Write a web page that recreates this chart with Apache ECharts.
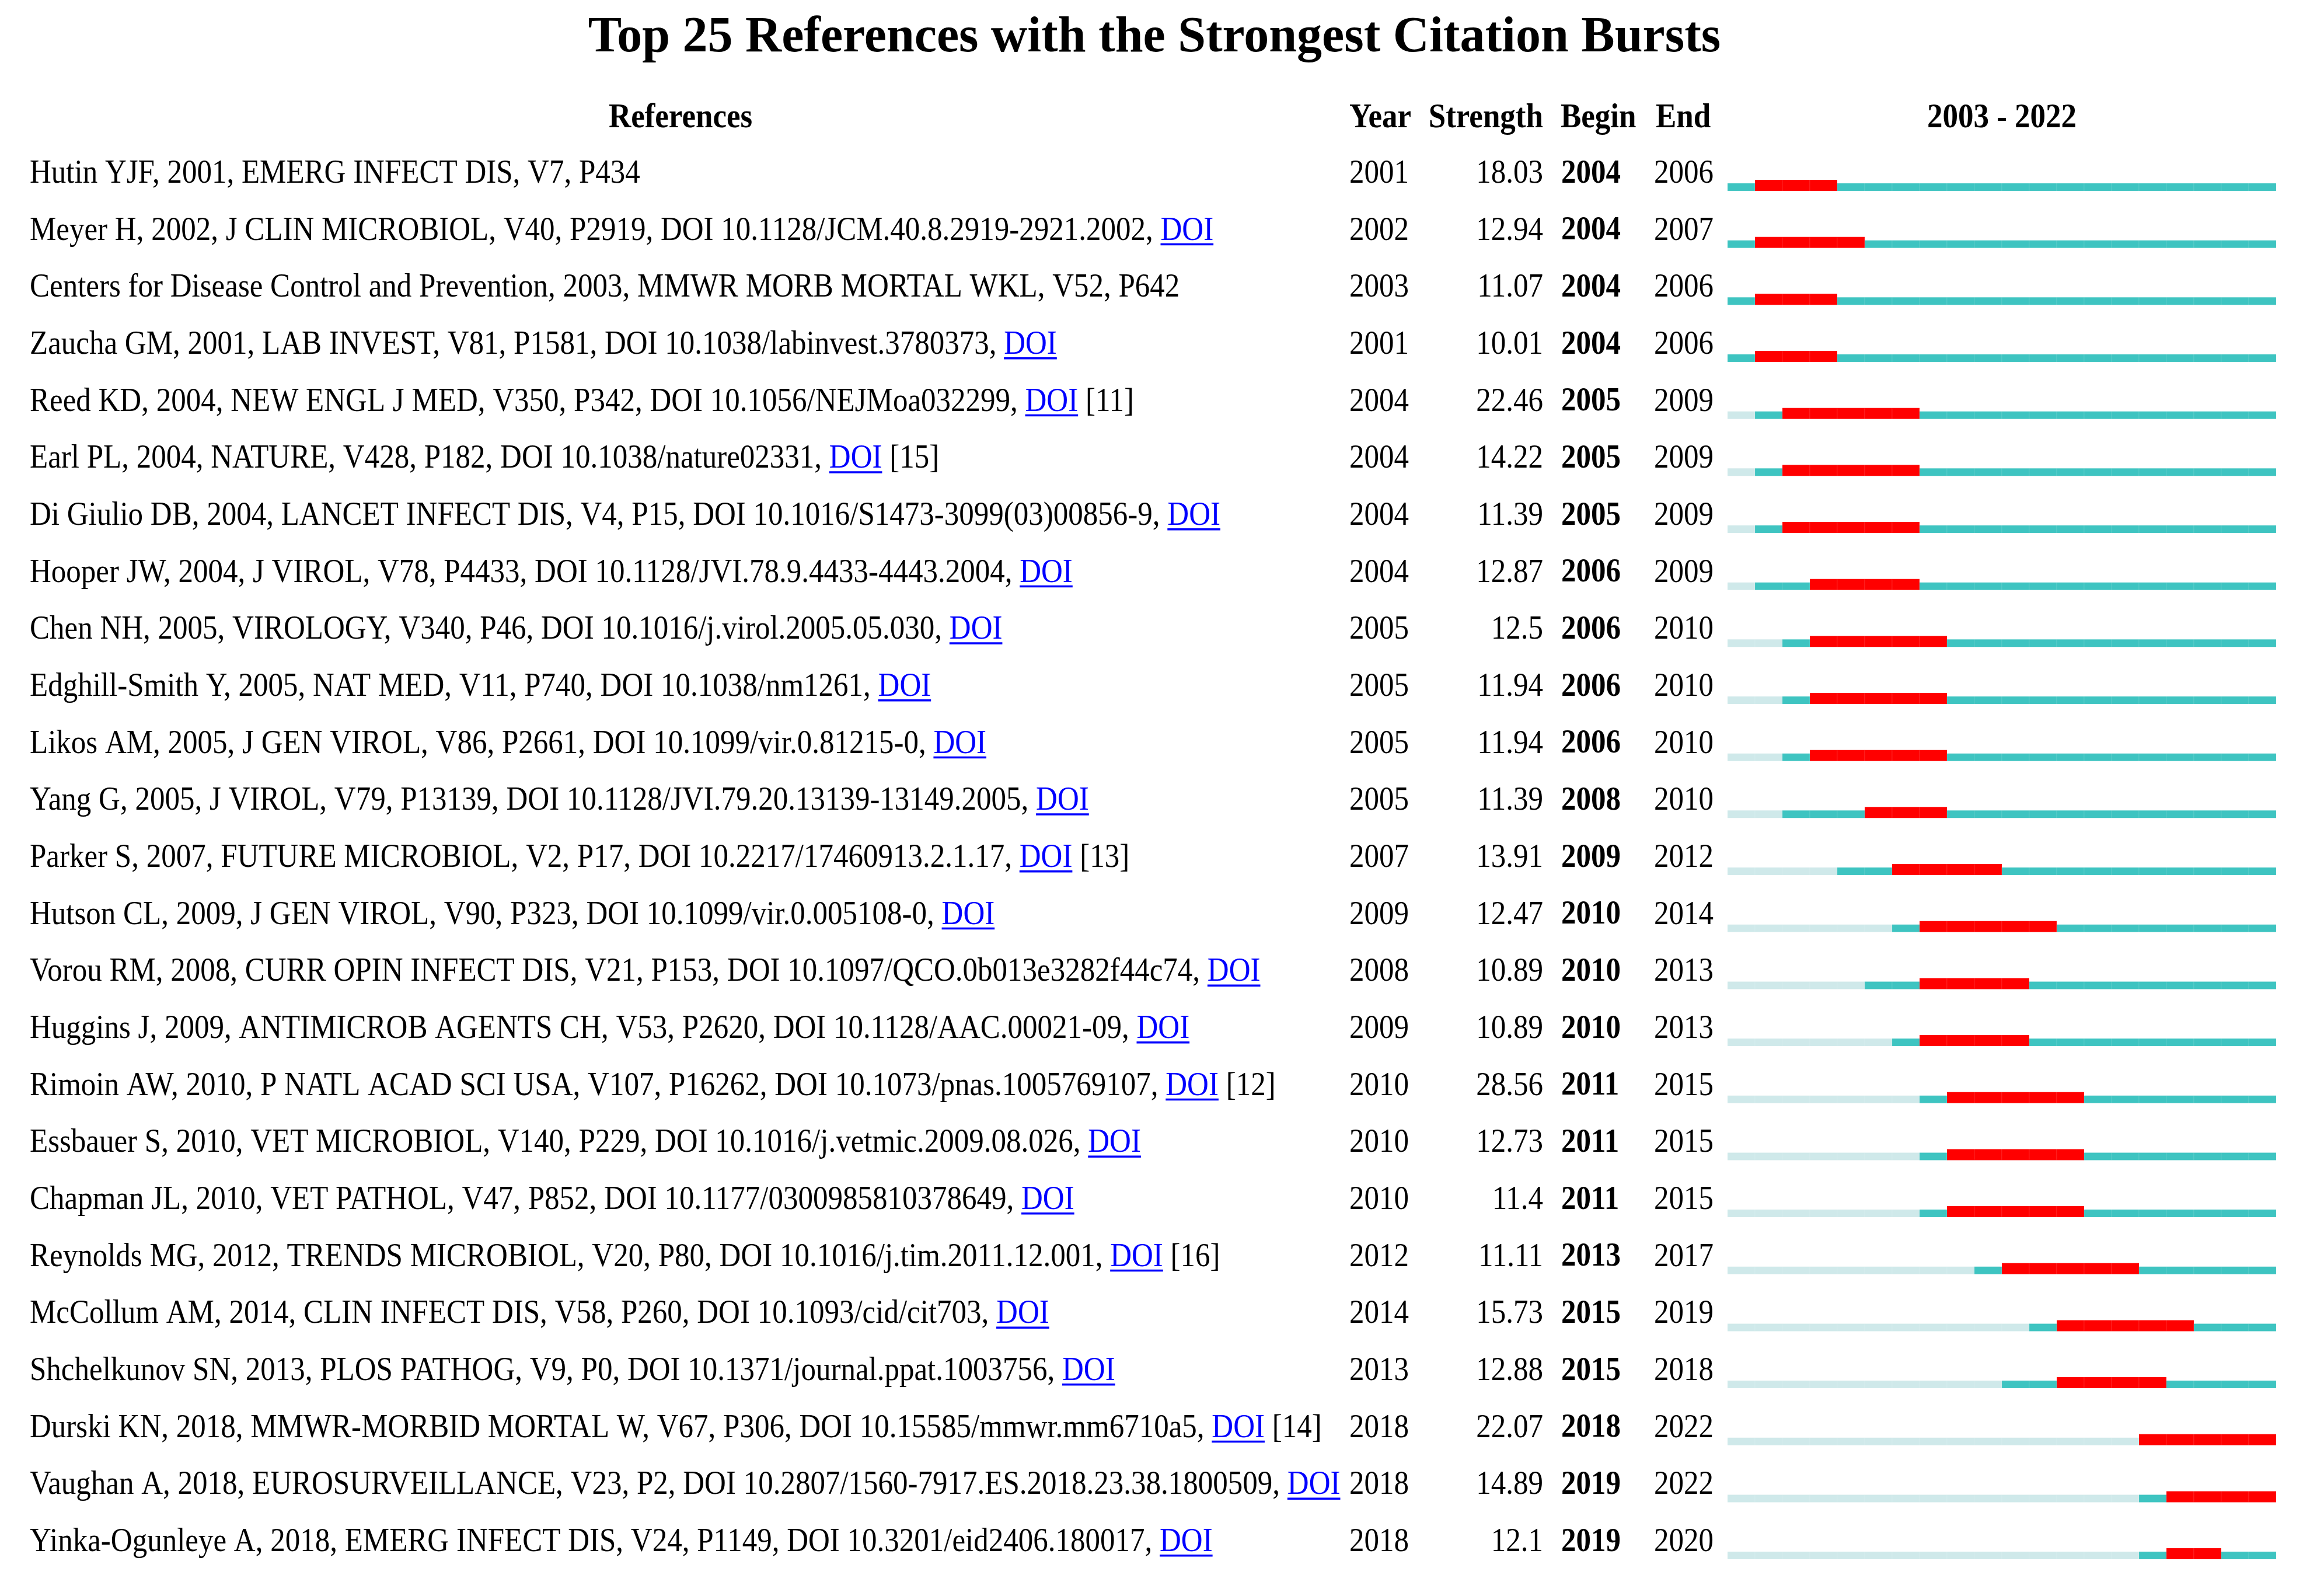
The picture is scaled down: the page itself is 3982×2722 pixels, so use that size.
<!DOCTYPE html>
<html><head><meta charset="utf-8">
<script src="https://cdn.jsdelivr.net/npm/echarts@6/dist/echarts.min.js"></script>
<style>html,body{margin:0;padding:0;background:#fff}#c{width:3982px;height:2722px}</style>
</head><body><div id="c"></div>
<script>
// ---------------- DATA ----------------
const titleText = 'Top 25 References with the Strongest Citation Bursts';
const headerLabels = ['References', 'Year', 'Strength', 'Begin', 'End', '2003 - 2022'];
const timelineStart = 2003;
const timelineEnd = 2022;

const references = [
  'Hutin YJF, 2001, EMERG INFECT DIS, V7, P434',
  'Meyer H, 2002, J CLIN MICROBIOL, V40, P2919, DOI 10.1128/JCM.40.8.2919-2921.2002, ',
  'Centers for Disease Control and Prevention, 2003, MMWR MORB MORTAL WKL, V52, P642',
  'Zaucha GM, 2001, LAB INVEST, V81, P1581, DOI 10.1038/labinvest.3780373, ',
  'Reed KD, 2004, NEW ENGL J MED, V350, P342, DOI 10.1056/NEJMoa032299, ',
  'Earl PL, 2004, NATURE, V428, P182, DOI 10.1038/nature02331, ',
  'Di Giulio DB, 2004, LANCET INFECT DIS, V4, P15, DOI 10.1016/S1473-3099(03)00856-9, ',
  'Hooper JW, 2004, J VIROL, V78, P4433, DOI 10.1128/JVI.78.9.4433-4443.2004, ',
  'Chen NH, 2005, VIROLOGY, V340, P46, DOI 10.1016/j.virol.2005.05.030, ',
  'Edghill-Smith Y, 2005, NAT MED, V11, P740, DOI 10.1038/nm1261, ',
  'Likos AM, 2005, J GEN VIROL, V86, P2661, DOI 10.1099/vir.0.81215-0, ',
  'Yang G, 2005, J VIROL, V79, P13139, DOI 10.1128/JVI.79.20.13139-13149.2005, ',
  'Parker S, 2007, FUTURE MICROBIOL, V2, P17, DOI 10.2217/17460913.2.1.17, ',
  'Hutson CL, 2009, J GEN VIROL, V90, P323, DOI 10.1099/vir.0.005108-0, ',
  'Vorou RM, 2008, CURR OPIN INFECT DIS, V21, P153, DOI 10.1097/QCO.0b013e3282f44c74, ',
  'Huggins J, 2009, ANTIMICROB AGENTS CH, V53, P2620, DOI 10.1128/AAC.00021-09, ',
  'Rimoin AW, 2010, P NATL ACAD SCI USA, V107, P16262, DOI 10.1073/pnas.1005769107, ',
  'Essbauer S, 2010, VET MICROBIOL, V140, P229, DOI 10.1016/j.vetmic.2009.08.026, ',
  'Chapman JL, 2010, VET PATHOL, V47, P852, DOI 10.1177/0300985810378649, ',
  'Reynolds MG, 2012, TRENDS MICROBIOL, V20, P80, DOI 10.1016/j.tim.2011.12.001, ',
  'McCollum AM, 2014, CLIN INFECT DIS, V58, P260, DOI 10.1093/cid/cit703, ',
  'Shchelkunov SN, 2013, PLOS PATHOG, V9, P0, DOI 10.1371/journal.ppat.1003756, ',
  'Durski KN, 2018, MMWR-MORBID MORTAL W, V67, P306, DOI 10.15585/mmwr.mm6710a5, ',
  'Vaughan A, 2018, EUROSURVEILLANCE, V23, P2, DOI 10.2807/1560-7917.ES.2018.23.38.1800509, ',
  'Yinka-Ogunleye A, 2018, EMERG INFECT DIS, V24, P1149, DOI 10.3201/eid2406.180017, '
];
const hasDoiLink = [0,1,0,1,1,1,1,1,1,1,1,1,1,1,1,1,1,1,1,1,1,1,1,1,1];
const citeNotes = ['','','','','[11]','[15]','','','','','','','[13]','','','','[12]','','','[16]','','','[14]','',''];
const pubYears = [2001,2002,2003,2001,2004,2004,2004,2004,2005,2005,2005,2005,2007,2009,2008,2009,2010,2010,2010,2012,2014,2013,2018,2018,2018];
const strengths = [18.03,12.94,11.07,10.01,22.46,14.22,11.39,12.87,12.5,11.94,11.94,11.39,13.91,12.47,10.89,10.89,28.56,12.73,11.4,11.11,15.73,12.88,22.07,14.89,12.1];
const beginYears = [2004,2004,2004,2004,2005,2005,2005,2006,2006,2006,2006,2008,2009,2010,2010,2010,2011,2011,2011,2013,2015,2015,2018,2019,2019];
const endYears = [2006,2007,2006,2006,2009,2009,2009,2009,2010,2010,2010,2010,2012,2014,2013,2013,2015,2015,2015,2017,2019,2018,2022,2022,2020];

// ---------------- STYLE / LAYOUT ----------------
const FONT = "'Liberation Serif', 'Times New Roman', Times, serif";
const FS = 51;          // body font size
const HFS = 53;         // header font size
const TFS = 86;         // title font size
const SY = 1.11;        // vertical stretch of the original picture
const TSY = 1.0;
const COL_REF_X = 51, COL_YEAR_X = 2312, COL_STR_RX = 2644, COL_BEGIN_X = 2675, COL_END_X = 2834;
const HEADER_Y = 203, TITLE_Y = 66;
const C_LIGHT = '#cfe9ea', C_TEAL = '#3ec4c1', C_RED = '#ff0000', C_LINK = '#0000ff';

const mctx = document.createElement('canvas').getContext('2d');
function textWidth(s, weight, size) {
  mctx.font = (weight || 'normal') + ' ' + (size || FS) + 'px ' + FONT;
  return mctx.measureText(s).width;
}
function textEl(x, y, s, o) {
  o = o || {};
  return {
    type: 'text', x: x, y: y, scaleY: SY, silent: true,
    style: {
      x: 0, y: 0, text: s, fill: o.fill || '#000',
      fontFamily: FONT, fontSize: o.size || FS, fontWeight: o.weight || 'normal',
      align: o.align || 'left', verticalAlign: 'middle'
    }
  };
}

const rowIdx = references.map((_, i) => i);
const barData = rowIdx.map(i => [i, pubYears[i], beginYears[i], endYears[i]]);
const textData = rowIdx.map(i => [i]);

function renderBars(params, api) {
  const i = api.value(0), pub = api.value(1), b = api.value(2), e = api.value(3);
  const children = [];
  const firstActive = Math.max(pub, timelineStart);
  for (let y = timelineStart; y <= timelineEnd; y++) {
    const p0 = api.coord([y, i]);
    const p1 = api.coord([y + 1, i]);
    const c = p0[1];
    let color = C_TEAL, top = c + 16;
    if (y < firstActive) color = C_LIGHT;
    else if (y >= b && y <= e) { color = C_RED; top = c + 10; }
    children.push({
      type: 'rect', silent: true,
      shape: { x: p0[0], y: top, width: p1[0] - p0[0], height: c + 29 - top },
      style: { fill: color, stroke: 'rgba(255,255,255,0.12)', lineWidth: 1 }
    });
  }
  return { type: 'group', children: children };
}

function renderText(params, api) {
  const i = api.value(0);
  const c = api.coord([timelineStart, i])[1];
  const ch = [];
  const base = references[i];
  ch.push(textEl(COL_REF_X, c, base));
  if (hasDoiLink[i]) {
    const x1 = COL_REF_X + textWidth(base);
    const wd = textWidth('DOI');
    ch.push(textEl(x1, c, 'DOI', { fill: C_LINK }));
    ch.push({ type: 'rect', silent: true, shape: { x: x1, y: c + 21, width: wd, height: 3.5 }, style: { fill: C_LINK } });
    if (citeNotes[i]) ch.push(textEl(x1 + wd + textWidth(' '), c, citeNotes[i]));
  }
  ch.push(textEl(COL_YEAR_X, c, String(pubYears[i])));
  ch.push(textEl(COL_STR_RX, c, String(strengths[i]), { align: 'right' }));
  ch.push(textEl(COL_BEGIN_X, c, String(beginYears[i]), { weight: 'bold' }));
  ch.push(textEl(COL_END_X, c, String(endYears[i])));
  return { type: 'group', children: ch };
}

const chart = echarts.init(document.getElementById('c'), null, { renderer: 'canvas' });
const rowH = 97.67;
const gridTop = 298 - rowH / 2;

function hdr(x, s, align) {
  return { type: 'text', x: x, y: HEADER_Y, scaleY: SY, silent: true,
    style: { x: 0, y: 0, text: s, fill: '#000', fontFamily: FONT, fontSize: HFS, fontWeight: 'bold', align: align, verticalAlign: 'middle' } };
}

chart.setOption({
  backgroundColor: '#fff',
  animation: false,
  grid: { left: 2960, right: 3982 - 3900, top: gridTop, height: rowH * references.length },
  xAxis: { type: 'value', min: timelineStart, max: timelineEnd + 1, show: false },
  yAxis: { type: 'category', data: rowIdx.map(String), inverse: true, show: false },
  graphic: [
    { type: 'text', x: 1978, y: TITLE_Y, scaleY: TSY, silent: true,
      style: { x: 0, y: 0, text: titleText, fill: '#000', fontFamily: FONT, fontSize: TFS, fontWeight: 'bold', align: 'center', verticalAlign: 'middle' } },
    hdr(1166, headerLabels[0], 'center'),
    hdr(2312, headerLabels[1], 'left'),
    hdr(2644, headerLabels[2], 'right'),
    hdr(2674, headerLabels[3], 'left'),
    hdr(2837, headerLabels[4], 'left'),
    hdr(3430, headerLabels[5], 'center')
  ],
  series: [
    { type: 'custom', name: 'bursts', clip: false, data: barData, renderItem: renderBars,
      encode: { x: [1, 2, 3], y: 0 } },
    { type: 'custom', name: 'table', clip: false, data: textData, renderItem: renderText,
      encode: { y: 0 } }
  ]
});
</script>
</body></html>
